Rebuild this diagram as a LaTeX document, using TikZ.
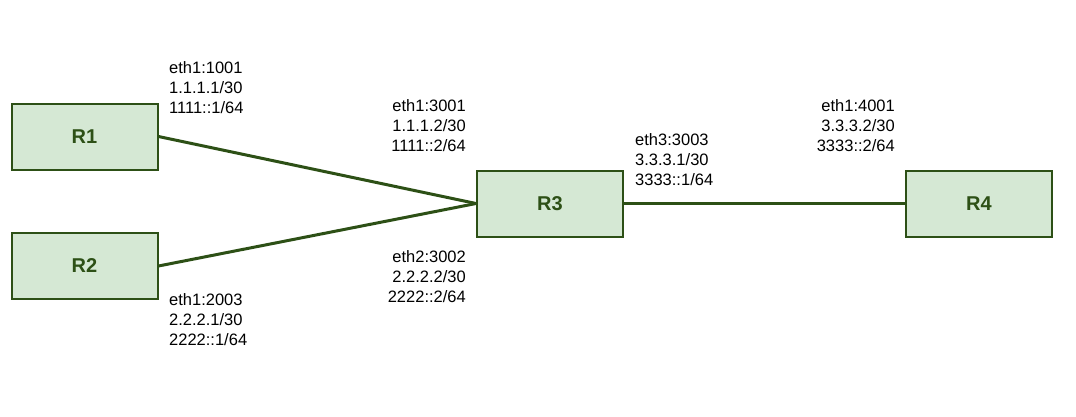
\documentclass[tikz,border=0pt]{standalone}
\usepackage{fontspec}
\setmainfont{Liberation Sans}
\definecolor{routerfill}{HTML}{D5E8D4}
\definecolor{routerline}{HTML}{2D5016}
\begin{document}
\begin{tikzpicture}[x=1pt,y=-1pt,
        router/.style={draw=routerline,fill=routerfill,line width=2pt,minimum width=146pt,minimum height=66pt,inner sep=0,font=\fontsize{20}{24}\selectfont\bfseries,text=routerline},
        link/.style={draw=routerline,line width=3pt},
        addr/.style={inner sep=0,font=\fontsize{16.5}{20}\selectfont}]
        \useasboundingbox (0,0) rectangle (1076,416);

        % routers
        \node[router] (r1) at (84.5,136.5) {R1};
        \node[router] (r2) at (84.5,266) {R2};
        \node[router] (r3) at (550,203.5) {R3};
        \node[router] (r4) at (979,203.5) {R4};

        % links
        \draw[link] (r1.east) -- (r3.west);
        \draw[link] (r2.east) -- (r3.west);
        \draw[link] (r3.east) -- (r4.west);

        % interface addresses
        \node[addr,anchor=north west,align=left] (r1eth1) at (169,61) {eth1:1001\\1.1.1.1/30\\1111::1/64};
        \node[addr,anchor=north west,align=left] (r2eth1) at (169,293) {eth1:2003\\2.2.2.1/30\\2222::1/64};
        \node[addr,anchor=north east,align=right] (r3eth1) at (466,99) {eth1:3001\\1.1.1.2/30\\1111::2/64};
        \node[addr,anchor=north east,align=right] (r3eth2) at (466,250) {eth2:3002\\2.2.2.2/30\\2222::2/64};
        \node[addr,anchor=north west,align=left] (r3eth3) at (635,133) {eth3:3003\\3.3.3.1/30\\3333::1/64};
        \node[addr,anchor=north east,align=right] (r4eth1) at (895,99) {eth1:4001\\3.3.3.2/30\\3333::2/64};
    \end{tikzpicture}
\end{document}
